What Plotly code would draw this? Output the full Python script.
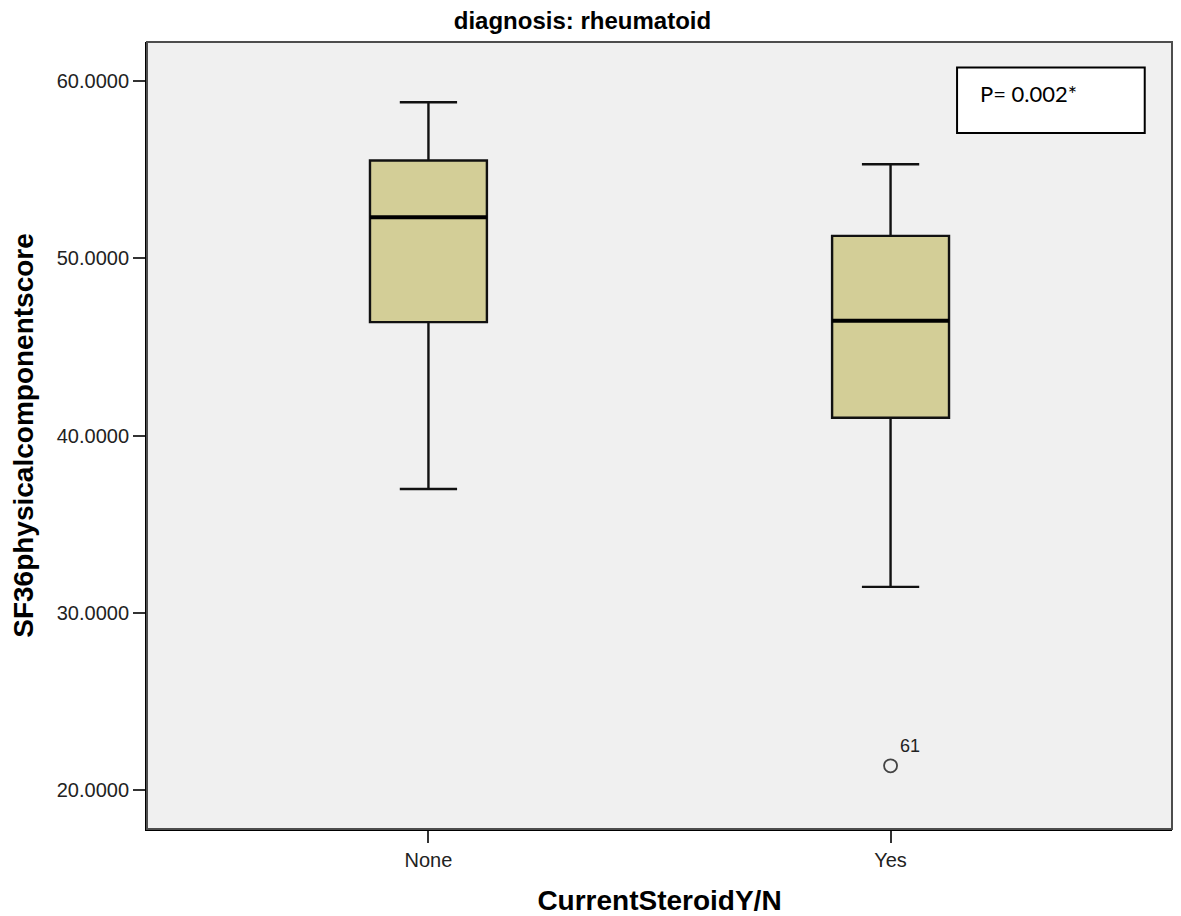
import plotly.graph_objects as go

# ---- data ----
categories = ["None", "Yes"]
positions = [0, 1]
lower_whisker = [36.98, 31.45]
q1_values = [46.40, 41.00]
medians = [52.33, 46.48]
q3_values = [55.53, 51.27]
upper_whisker = [58.82, 55.32]
outlier_group = [1]
outlier_values = [21.35]
outlier_labels = ["61"]
y_ticks = [20, 30, 40, 50, 60]
p_text = "P= 0.002*"

BOX_W = 0.253
FILL = "#D3CE97"

fig = go.Figure()

for i, cat in enumerate(categories):
    fig.add_trace(go.Box(
        x=[positions[i]],
        q1=[q1_values[i]], median=[medians[i]], q3=[q3_values[i]],
        lowerfence=[lower_whisker[i]], upperfence=[upper_whisker[i]],
        width=BOX_W, whiskerwidth=0.49,
        fillcolor=FILL,
        line=dict(color="#111111", width=2.4),
        boxpoints=False, showlegend=False, name=cat, hoverinfo="skip",
    ))
    # emphasised median line
    fig.add_trace(go.Scatter(
        x=[positions[i] - BOX_W / 2, positions[i] + BOX_W / 2],
        y=[medians[i], medians[i]],
        mode="lines", line=dict(color="black", width=4),
        showlegend=False, hoverinfo="skip",
    ))

fig.add_trace(go.Scatter(
    x=[positions[g] for g in outlier_group], y=outlier_values,
    mode="markers",
    marker=dict(symbol="circle-open", size=13, color="#444444", line=dict(width=1.8)),
    showlegend=False, hoverinfo="skip",
))

for g, v, lab in zip(outlier_group, outlier_values, outlier_labels):
    fig.add_annotation(x=positions[g], y=v, text=lab, showarrow=False,
                       xshift=19, yshift=20,
                       font=dict(family="Liberation Sans, Arial", size=18, color="#222222"))

# P-value box
fig.add_shape(type="rect", xref="paper", yref="paper",
              x0=0.7903, x1=0.9734, y0=0.8845, y1=0.9675,
              fillcolor="white", line=dict(color="black", width=2), layer="above")
fig.add_annotation(xref="paper", yref="paper", x=0.8105, y=0.9349,
                   xanchor="left", yanchor="middle", text=p_text, showarrow=False,
                   font=dict(family="Lato, Open Sans, sans-serif", size=22, color="black"))

# frame (top/right borders in dark grey)
fig.add_shape(type="rect", xref="paper", yref="paper", x0=0, x1=1, y0=0, y1=1,
              line=dict(color="#4d4d4d", width=2), layer="above")

fig.update_layout(
    width=1181, height=916,
    margin=dict(l=147, r=9, t=42, b=87, autoexpand=False),
    paper_bgcolor="white", plot_bgcolor="#F0F0F0",
    font=dict(family="Liberation Sans, Arial", color="#222222"),
    title=dict(text="<b>diagnosis: rheumatoid</b>", x=0.4932, xref="container", xanchor="center",
               y=0.978, yref="container", yanchor="middle", automargin=False,
               font=dict(family="Liberation Sans, Arial", size=24, color="black")),
    xaxis=dict(
        range=[-0.609, 1.609], tickmode="array", tickvals=positions, ticktext=categories,
        showgrid=False, zeroline=False, showline=True, linecolor="black", linewidth=2,
        ticks="outside", ticklen=12, tickwidth=2, tickcolor="#333333",
        tickfont=dict(size=20, color="#222222"), automargin=False,
        title=dict(text="<b>CurrentSteroidY/N</b>", standoff=21,
                   font=dict(size=28, color="black")),
    ),
    yaxis=dict(
        range=[17.78, 62.22], tickmode="array", tickvals=y_ticks, tickformat=".4f",
        showgrid=False, zeroline=False, showline=True, linecolor="black", linewidth=2,
        ticks="outside", ticklen=12, tickwidth=2, tickcolor="#333333",
        tickfont=dict(size=20, color="#222222"), automargin=False,
        title=dict(text="<b>SF36physicalcomponentscore</b>", standoff=15,
                   font=dict(size=28, color="black")),
    ),
)

fig.write_html("out.html", config={"displayModeBar": False},
               post_script="document.body.style.margin='0';")
